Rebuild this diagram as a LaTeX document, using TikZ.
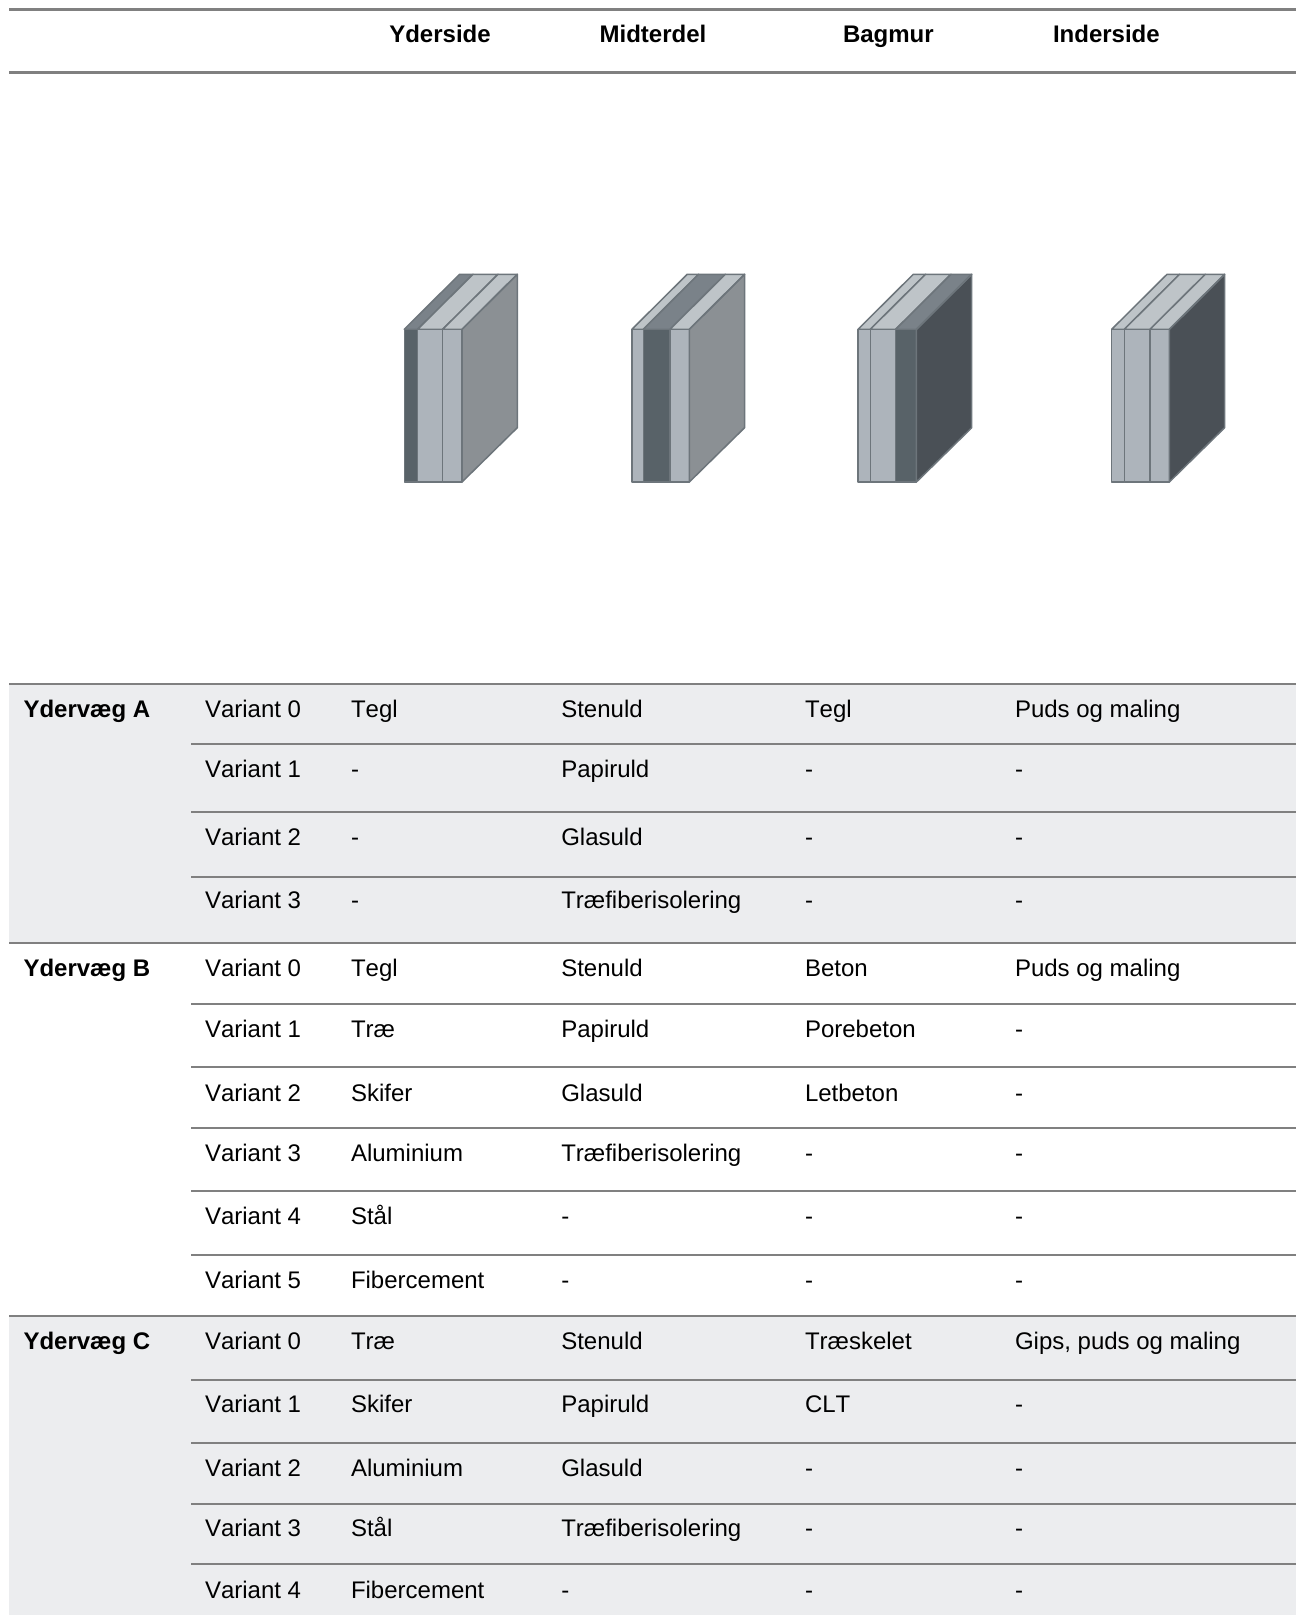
\documentclass[tikz,border=0pt]{standalone}
\usepackage{fontspec}
\setmainfont[Kerning=Off,BoldFeatures={Kerning=On}]{Liberation Sans}
\definecolor{bandfill}{HTML}{ECEDEF}
\definecolor{rulegray}{HTML}{808080}
\definecolor{edgegray}{HTML}{6D757B}
\definecolor{lightfront}{HTML}{ADB4BB}
\definecolor{lighttop}{HTML}{BEC4C8}
\definecolor{darkfront}{HTML}{586268}
\definecolor{darktop}{HTML}{7A8289}
\definecolor{sidegray}{HTML}{8B9094}
\definecolor{sidedark}{HTML}{4A5056}
\tikzset{
  x=1pt,y=-1pt,
  cell/.style={anchor=base west,inner sep=0pt,outer sep=0pt,text=black,font=\fontsize{24}{28}\selectfont},
  headcell/.style={cell,font=\fontsize{24}{28}\selectfont\bfseries},
  tablerule/.style={draw=rulegray,line width=2.1pt},
  band/.style={fill=bandfill,draw=none},
  wall/.style={draw=edgegray,line width=1.5pt,line join=round},
}
% #1 x0, #2 x1, #3 x2, #4 x3, #5 #6 #7 layer kinds (light/dark), #8 side colour
\newcommand{\wallblock}[8]{
  \path[fill=#8] (#4,329.3) -- (#4+55.3,274.3) -- (#4+55.3,427.7) -- (#4,482) -- cycle;
  \path[wall,fill=#5top] (#1,329.3) -- (#1+55.3,274.3) -- (#2+55.3,274.3) -- (#2,329.3) -- cycle;
  \path[wall,fill=#6top] (#2,329.3) -- (#2+55.3,274.3) -- (#3+55.3,274.3) -- (#3,329.3) -- cycle;
  \path[wall,fill=#7top] (#3,329.3) -- (#3+55.3,274.3) -- (#4+55.3,274.3) -- (#4,329.3) -- cycle;
  \path[wall,fill=#5front] (#1,329.3) rectangle (#2,482);
  \path[wall,fill=#6front] (#2,329.3) rectangle (#3,482);
  \path[wall,fill=#7front] (#3,329.3) rectangle (#4,482);
  \path[wall] (#4,329.3) -- (#4+55.3,274.3) -- (#4+55.3,427.7) -- (#4,482) -- cycle;
}
% one table row: name, baseline, then five texts
\newcommand{\tablerow}[7]{
  \node[cell] (#1v) at (205,#2) {#3};
  \node[cell] (#1a) at (351,#2) {#4};
  \node[cell] (#1b) at (561.3,#2) {#5};
  \node[cell] (#1c) at (805,#2) {#6};
  \node[cell] (#1d) at (1015,#2) {#7};
}
\begin{document}
\begin{tikzpicture}
\useasboundingbox (0,0) rectangle (1296,1615);
\fill[white] (0,0) rectangle (1296,1615);
% bands
\path[band] (9,684) rectangle (1296,942.6);
\path[band] (9,1315.6) rectangle (1296,1615);
% header rules
\draw[tablerule] (9,9.5) -- (1296,9.5);
\draw[tablerule] (9,72.5) -- (1296,72.5);
% header
\node[headcell] (h1) at (389.3,42) {Yderside};
\node[headcell] (h2) at (599.6,42) {Midterdel};
\node[headcell] (h3) at (843,42) {Bagmur};
\node[headcell] (h4) at (1053,42) {Inderside};
% wall blocks
\wallblock{404.3}{417.7}{442.7}{462}{dark}{light}{light}{sidegray}
\wallblock{631.9}{643.3}{670}{689.3}{light}{dark}{light}{sidegray}
\wallblock{858}{870.3}{895.7}{916.4}{light}{light}{dark}{sidedark}
\wallblock{1111.7}{1124.3}{1150}{1169.3}{light}{light}{light}{sidedark}
% rules of the table
\foreach \yy in {684,942.6,1315.6} {\draw[tablerule] (9,\yy) -- (1296,\yy);}
\foreach \yy in {744,811.8,876.6,1004.2,1067.3,1128.3,1191,1255,1380.2,1443.2,1503.8,1563.8} {\draw[tablerule] (191,\yy) -- (1296,\yy);}
% group labels
\node[headcell] (ga) at (23.5,717.7) {Ydervæg A};
\node[headcell] (gb) at (23.5,976.5) {Ydervæg B};
\node[headcell] (gc) at (23.5,1349.5) {Ydervæg C};
% rows
\tablerow{ar0}{717.7}{Variant 0}{Tegl}{Stenuld}{Tegl}{Puds og maling}
\tablerow{ar1}{777}{Variant 1}{-}{Papiruld}{-}{-}
\tablerow{ar2}{845}{Variant 2}{-}{Glasuld}{-}{-}
\tablerow{ar3}{908.3}{Variant 3}{-}{Træfiberisolering}{-}{-}
\tablerow{br0}{976.5}{Variant 0}{Tegl}{Stenuld}{Beton}{Puds og maling}
\tablerow{br1}{1037}{Variant 1}{Træ}{Papiruld}{Porebeton}{-}
\tablerow{br2}{1101}{Variant 2}{Skifer}{Glasuld}{Letbeton}{-}
\tablerow{br3}{1161}{Variant 3}{Aluminium}{Træfiberisolering}{-}{-}
\tablerow{br4}{1224}{Variant 4}{Stål}{-}{-}{-}
\tablerow{br5}{1288}{Variant 5}{Fibercement}{-}{-}{-}
\tablerow{cr0}{1349.5}{Variant 0}{Træ}{Stenuld}{Træskelet}{Gips, puds og maling}
\tablerow{cr1}{1412}{Variant 1}{Skifer}{Papiruld}{CLT}{-}
\tablerow{cr2}{1476}{Variant 2}{Aluminium}{Glasuld}{-}{-}
\tablerow{cr3}{1536}{Variant 3}{Stål}{Træfiberisolering}{-}{-}
\tablerow{cr4}{1598}{Variant 4}{Fibercement}{-}{-}{-}
\end{tikzpicture}
\end{document}
